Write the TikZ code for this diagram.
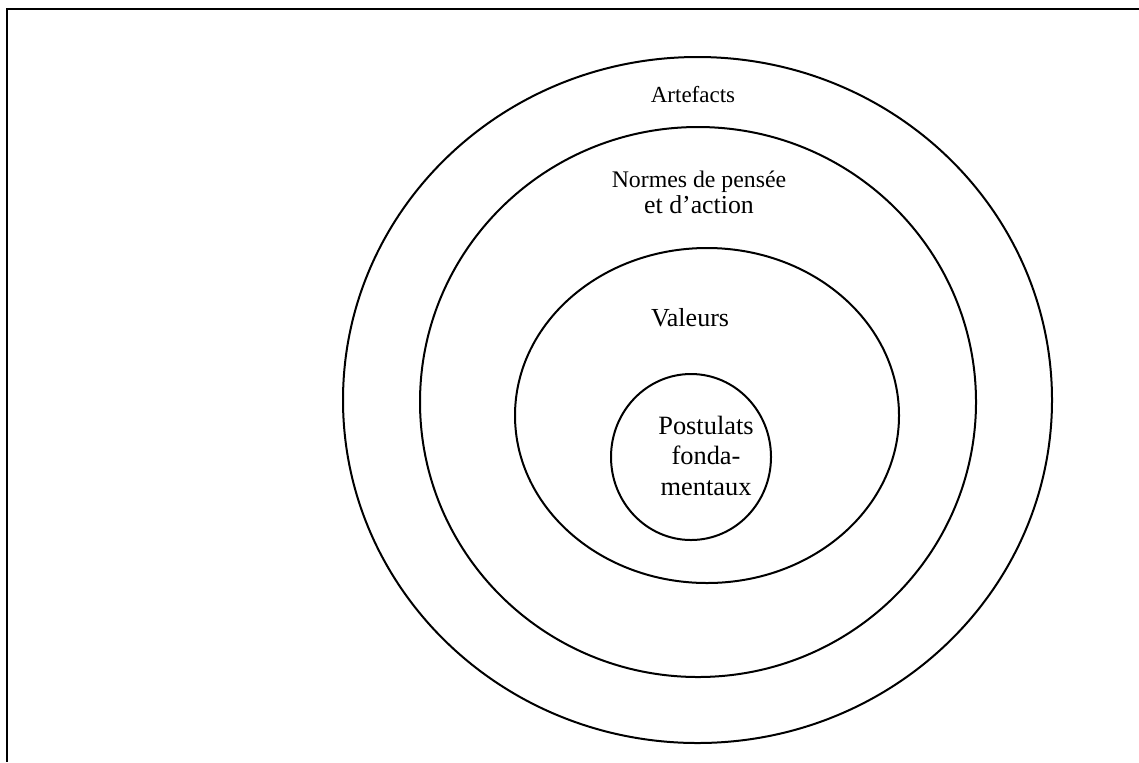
\documentclass[tikz,border=0pt]{standalone}
\usepackage{fontspec}
\setmainfont{Liberation Serif}
\begin{document}
\begin{tikzpicture}[
    x=0.5pt, y=-0.5pt,
    frame/.style={line width=1.3pt},
    ring/.style={line width=1pt},
    layer/.style={anchor=base, inner sep=0pt, align=center}
]
\useasboundingbox (0,0) rectangle (1139,762);

% Frame (top and left edges only)
\coordinate (tr) at (1139,9);
\coordinate (tl) at (7,9);
\coordinate (bl) at (7,762);
\draw[frame] (tr) -- (tl) -- (bl);

% Rings
\coordinate (c1) at (697.5,400);
\coordinate (c2) at (698,402);
\coordinate (c3) at (707,415.5);
\coordinate (c4) at (691,457);
\draw[ring] (c1) ellipse [x radius=354.5, y radius=343];
\draw[ring] (c2) ellipse [x radius=278, y radius=275];
\draw[ring] (c3) ellipse [x radius=192, y radius=167.5];
\draw[ring] (c4) ellipse [x radius=80, y radius=83];

% Labels
\node[layer, font=\fontsize{11.5}{13}\selectfont] (art) at (693,102.3) {Artefacts};
\node[layer, font=\fontsize{11.9}{13}\selectfont] (norm) at (699,187.5) {Normes de pensée};
\node[layer, font=\fontsize{12.9}{14}\selectfont] (act) at (699,213) {et d’action};
\node[layer, font=\fontsize{13}{14}\selectfont] (val) at (690,326.7) {Valeurs};
\node[layer, font=\fontsize{13.2}{15.2}\selectfont] (post) at (706,495) {Postulats\\fonda-\\mentaux};

\end{tikzpicture}
\end{document}
